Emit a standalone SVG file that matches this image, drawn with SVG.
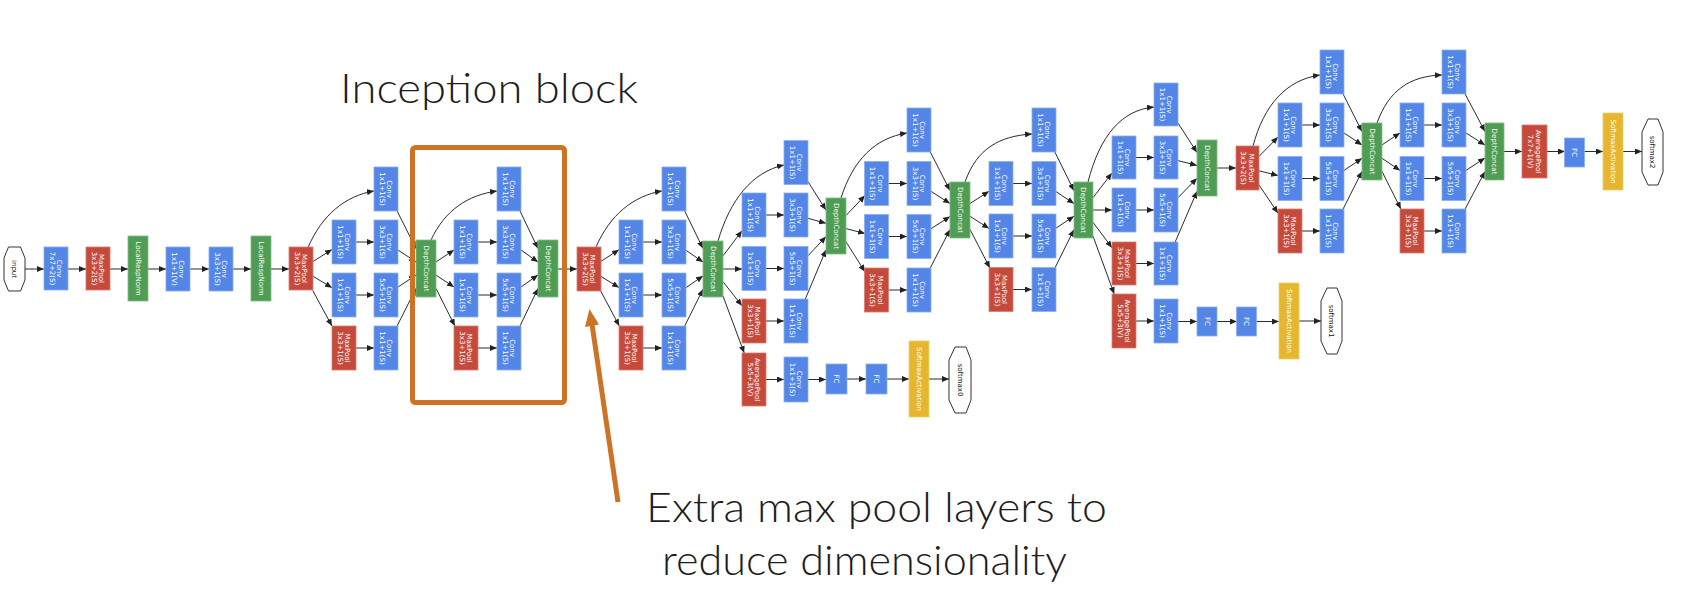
<svg xmlns="http://www.w3.org/2000/svg" width="1685" height="599" viewBox="0 0 1685 599">
<defs>
<marker id="ah" markerWidth="7" markerHeight="6" refX="7" refY="3" orient="auto" markerUnits="userSpaceOnUse"><path d="M0,0 L7,3 L0,6 z" fill="#222"/></marker>
</defs>
<style>
.b{fill:#5386e6;stroke:#8eaef0;stroke-width:0.8}
.r{fill:#c64a3b;stroke:#d97d72;stroke-width:0.8}
.g{fill:#4f9d54;stroke:#82bb86;stroke-width:0.8}
.y{fill:#e6b72e;stroke:#f0cf6e;stroke-width:0.8}
.o{fill:#fff;stroke:#333;stroke-width:1}
text{font-family:"DejaVu Sans",Verdana,sans-serif;font-size:7px;fill:#fff;text-anchor:middle}
text.k{fill:#111}
.big{font-family:"Lato","Open Sans",sans-serif;font-weight:300;font-size:42px;fill:#1d1d1d;text-anchor:start}
#edges path{fill:none;stroke:#2b2b2b;stroke-width:1;marker-end:url(#ah)}
.or{stroke:#cc7325;fill:none;stroke-width:5}
</style>
<rect width="1685" height="599" fill="#fff"/>

<g id="edges">
<path d="M25,269 L44,269"/><path d="M68,269 L86,269"/><path d="M110,269 L128,269"/><path d="M148,269 L166,269"/><path d="M190,269 L209,269"/><path d="M233,269 L251,269"/><path d="M271,269 L289,269"/>
<path d="M313,261.5 L332,249.5"/><path d="M313,276.3 L332,287.7"/><path d="M312.7,290.5 L332,326"/><path d="M308,247.5 C322,215 345,196 374,191"/>
<path d="M356,242 L374,242"/><path d="M356,295 L374,295"/><path d="M356,348 L374,348"/>
<path d="M397.1,211 L416,248.6"/><path d="M398,250 L416,261.9"/><path d="M398,287 L416,275.1"/><path d="M397.1,326 L416,288.4"/>
<path d="M436,261.9 L454,250"/><path d="M436,275.1 L454,287"/><path d="M436,288.4 L454.9,326"/><path d="M431,240 C445,210 468,195 497,191"/>
<path d="M478,242 L497,242"/><path d="M478,295 L497,295"/><path d="M478,348 L497,348"/>
<path d="M520,211 L538,248.6"/><path d="M521,250 L538,262"/><path d="M521,287 L538,275"/><path d="M520,326 L538,288.4"/><path d="M558,269 L577,269"/>
<path d="M601,261.3 L619,249.7"/><path d="M601,276.4 L619,287.6"/><path d="M600.7,291 L619.3,326"/><path d="M596,247 C610,215 633,196 662,191"/>
<path d="M643,242 L662,242"/><path d="M643,295 L662,295"/><path d="M643,348 L662,348"/>
<path d="M684.7,211 L703,248.5"/><path d="M686,250.3 L703,262.1"/><path d="M686,287.7 L703,275.9"/><path d="M684.7,326 L703,289.2"/>
<path d="M723,255.8 L742,230.8"/><path d="M723,269 L742,269"/><path d="M723,281.7 L742,305.8"/><path d="M723,296 L744.2,353"/><path d="M718,241 C730,200 752,172 784,165"/>
<path d="M766,215 L784,215"/><path d="M766,268.5 L784,268.5"/><path d="M766,321 L784,321"/><path d="M766,379.5 L784,379.5"/>
<path d="M808,181.6 L826,210.1"/><path d="M808,218.3 L826,223.3"/><path d="M808,255.8 L826,236.6"/><path d="M805.3,299 L826,249.75"/>
<path d="M808,379.5 L826,379.5"/><path d="M847,379 L866,379"/><path d="M887,379 L909,379"/><path d="M929,379 L949,379"/>
<path d="M846,215.5 L865,195.6"/><path d="M846,228.6 L865,233.5"/><path d="M846,241.8 L865,271.8"/><path d="M841,198 C853,160 875,138 907,133"/>
<path d="M888,183.5 L907,183.5"/><path d="M888,236.5 L907,236.5"/><path d="M888,290 L907,290"/>
<path d="M930.3,152 L950,190.5"/><path d="M931,191.3 L950,203.5"/><path d="M931,228.7 L950,216.5"/><path d="M930.3,268 L950,229.5"/>
<path d="M970,203.5 L989,191.3"/><path d="M970,216.3 L989,228.4"/><path d="M970,229.4 L989.9,268"/><path d="M965,182 C977,148 1000,136 1032,134"/>
<path d="M1013,183.5 L1032,183.5"/><path d="M1013,236 L1032,236"/><path d="M1013,289.5 L1032,289.5"/>
<path d="M1054.9,152 L1074,190.8"/><path d="M1056,191.6 L1074,203.6"/><path d="M1056,228.1 L1074,216.2"/><path d="M1054.9,268 L1074,229.6"/>
<path d="M1093,197.7 L1112,173"/><path d="M1093,210 L1112,210"/><path d="M1093,222.3 L1112,247.7"/><path d="M1093,236.1 L1114.2,294"/><path d="M1088,182 C1100,135 1122,110 1154,107"/>
<path d="M1136,157.5 L1154,157.5"/><path d="M1136,210 L1154,210"/><path d="M1136,263.5 L1154,263.5"/><path d="M1136,321 L1154,321"/>
<path d="M1178,123.1 L1197,152.5"/><path d="M1178,160.6 L1197,165.4"/><path d="M1178,197.7 L1197,178.2"/><path d="M1175.2,242 L1197,191.3"/>
<path d="M1178,321.5 L1197,321.5"/><path d="M1217,321.5 L1237,321.5"/><path d="M1256,321.5 L1279,321.5"/><path d="M1299,321 L1321,321"/>
<path d="M1217,168 L1236,168"/>
<path d="M1259,156.4 L1278,137.1"/><path d="M1259,170.8 L1278,175.5"/><path d="M1259,185 L1278,213.2"/><path d="M1253,146 C1264,105 1286,80 1320,75"/>
<path d="M1302,125 L1320,125"/><path d="M1302,178.5 L1320,178.5"/><path d="M1302,231 L1320,231"/>
<path d="M1343.1,94 L1362,131.6"/><path d="M1344,133 L1362,144.9"/><path d="M1344,170.4 L1362,158.3"/><path d="M1343.1,209 L1362,171.4"/>
<path d="M1382,144.9 L1400,133"/><path d="M1382,158.3 L1400,170.4"/><path d="M1382,171.4 L1400.9,209"/><path d="M1377,123 C1389,90 1410,76 1442,75"/>
<path d="M1424,125 L1442,125"/><path d="M1424,178.5 L1442,178.5"/><path d="M1424,231 L1442,231"/>
<path d="M1465.1,94 L1485,131.6"/><path d="M1466,133 L1485,145"/><path d="M1466,170.4 L1485,158"/><path d="M1465.1,209 L1485,171.4"/>
<path d="M1504,151.5 L1522,151.5"/><path d="M1547,151.5 L1565,151.5"/><path d="M1584,151.5 L1603,151.5"/><path d="M1623,151.5 L1642,151.5"/>
</g>

<!-- main stem -->
<g id="input"><polygon class="o" points="8.5,247 20.5,247 25,258 25,280 20.5,291 8.5,291 4,280 4,258"/><text class="k" transform="translate(14.5,269) rotate(90)" y="2.5">input</text></g>
<g id="conv1" transform="translate(56,268.5)"><rect class="b" x="-12" y="-21.5" width="24" height="43"/><text transform="rotate(90)"><tspan x="0" y="-1.2">Conv</tspan><tspan x="0" y="6.5">7x7+2(S)</tspan></text></g>
<g id="pool1" transform="translate(98,268.5)"><rect class="r" x="-12" y="-21.5" width="24" height="43"/><text transform="rotate(90)"><tspan x="0" y="-1.2">MaxPool</tspan><tspan x="0" y="6.5">3x3+2(S)</tspan></text></g>
<g id="lrn1" transform="translate(138,268.5)"><rect class="g" x="-10" y="-32.5" width="20" height="65"/><text transform="rotate(90)" y="2.5">LocalRespNorm</text></g>
<g id="conv2" transform="translate(178,269)"><rect class="b" x="-12" y="-22" width="24" height="44"/><text transform="rotate(90)"><tspan x="0" y="-1.2">Conv</tspan><tspan x="0" y="6.5">1x1+1(V)</tspan></text></g>
<g id="conv3" transform="translate(221,269)"><rect class="b" x="-12" y="-22" width="24" height="44"/><text transform="rotate(90)"><tspan x="0" y="-1.2">Conv</tspan><tspan x="0" y="6.5">3x3+1(S)</tspan></text></g>
<g id="lrn2" transform="translate(261,268.5)"><rect class="g" x="-10" y="-32.5" width="20" height="65"/><text transform="rotate(90)" y="2.5">LocalRespNorm</text></g>
<g id="pool2" transform="translate(301,268.5)"><rect class="r" x="-12" y="-21.5" width="24" height="43"/><text transform="rotate(90)"><tspan x="0" y="-1.2">MaxPool</tspan><tspan x="0" y="6.5">3x3+2(S)</tspan></text></g>

<!-- inception 3a -->
<g id="i3a_c1r2" transform="translate(344,242)"><rect class="b" x="-12" y="-22" width="24" height="44"/><text transform="rotate(90)"><tspan x="0" y="-1.2">Conv</tspan><tspan x="0" y="6.5">1x1+1(S)</tspan></text></g>
<g id="i3a_c1r3" transform="translate(344,295)"><rect class="b" x="-12" y="-22" width="24" height="44"/><text transform="rotate(90)"><tspan x="0" y="-1.2">Conv</tspan><tspan x="0" y="6.5">1x1+1(S)</tspan></text></g>
<g id="i3a_c1r4" transform="translate(344,348)"><rect class="r" x="-12" y="-22" width="24" height="44"/><text transform="rotate(90)"><tspan x="0" y="-1.2">MaxPool</tspan><tspan x="0" y="6.5">3x3+1(S)</tspan></text></g>
<g id="i3a_c2r1" transform="translate(386,189)"><rect class="b" x="-12" y="-22" width="24" height="44"/><text transform="rotate(90)"><tspan x="0" y="-1.2">Conv</tspan><tspan x="0" y="6.5">1x1+1(S)</tspan></text></g>
<g id="i3a_c2r2" transform="translate(386,242)"><rect class="b" x="-12" y="-22" width="24" height="44"/><text transform="rotate(90)"><tspan x="0" y="-1.2">Conv</tspan><tspan x="0" y="6.5">3x3+1(S)</tspan></text></g>
<g id="i3a_c2r3" transform="translate(386,295)"><rect class="b" x="-12" y="-22" width="24" height="44"/><text transform="rotate(90)"><tspan x="0" y="-1.2">Conv</tspan><tspan x="0" y="6.5">5x5+1(S)</tspan></text></g>
<g id="i3a_c2r4" transform="translate(386,348)"><rect class="b" x="-12" y="-22" width="24" height="44"/><text transform="rotate(90)"><tspan x="0" y="-1.2">Conv</tspan><tspan x="0" y="6.5">1x1+1(S)</tspan></text></g>
<g id="i3a_dc" transform="translate(426,268.5)"><rect class="g" x="-10" y="-28.5" width="20" height="57"/><text transform="rotate(90)" y="2.5">DepthConcat</text></g>

<!-- inception 3b -->
<g id="i3b_c1r2" transform="translate(466,242)"><rect class="b" x="-12" y="-22" width="24" height="44"/><text transform="rotate(90)"><tspan x="0" y="-1.2">Conv</tspan><tspan x="0" y="6.5">1x1+1(S)</tspan></text></g>
<g id="i3b_c1r3" transform="translate(466,295)"><rect class="b" x="-12" y="-22" width="24" height="44"/><text transform="rotate(90)"><tspan x="0" y="-1.2">Conv</tspan><tspan x="0" y="6.5">1x1+1(S)</tspan></text></g>
<g id="i3b_c1r4" transform="translate(466,348)"><rect class="r" x="-12" y="-22" width="24" height="44"/><text transform="rotate(90)"><tspan x="0" y="-1.2">MaxPool</tspan><tspan x="0" y="6.5">3x3+1(S)</tspan></text></g>
<g id="i3b_c2r1" transform="translate(509,189)"><rect class="b" x="-12" y="-22" width="24" height="44"/><text transform="rotate(90)"><tspan x="0" y="-1.2">Conv</tspan><tspan x="0" y="6.5">1x1+1(S)</tspan></text></g>
<g id="i3b_c2r2" transform="translate(509,242)"><rect class="b" x="-12" y="-22" width="24" height="44"/><text transform="rotate(90)"><tspan x="0" y="-1.2">Conv</tspan><tspan x="0" y="6.5">3x3+1(S)</tspan></text></g>
<g id="i3b_c2r3" transform="translate(509,295)"><rect class="b" x="-12" y="-22" width="24" height="44"/><text transform="rotate(90)"><tspan x="0" y="-1.2">Conv</tspan><tspan x="0" y="6.5">5x5+1(S)</tspan></text></g>
<g id="i3b_c2r4" transform="translate(509,348)"><rect class="b" x="-12" y="-22" width="24" height="44"/><text transform="rotate(90)"><tspan x="0" y="-1.2">Conv</tspan><tspan x="0" y="6.5">1x1+1(S)</tspan></text></g>
<g id="i3b_dc" transform="translate(548,268.5)"><rect class="g" x="-10" y="-28.5" width="20" height="57"/><text transform="rotate(90)" y="2.5">DepthConcat</text></g>
<g id="pool3" transform="translate(589,269)"><rect class="r" x="-12" y="-22" width="24" height="44"/><text transform="rotate(90)"><tspan x="0" y="-1.2">MaxPool</tspan><tspan x="0" y="6.5">3x3+2(S)</tspan></text></g>

<!-- inception 4a -->
<g id="i4a_c1r2" transform="translate(631,242)"><rect class="b" x="-12" y="-22" width="24" height="44"/><text transform="rotate(90)"><tspan x="0" y="-1.2">Conv</tspan><tspan x="0" y="6.5">1x1+1(S)</tspan></text></g>
<g id="i4a_c1r3" transform="translate(631,295)"><rect class="b" x="-12" y="-22" width="24" height="44"/><text transform="rotate(90)"><tspan x="0" y="-1.2">Conv</tspan><tspan x="0" y="6.5">1x1+1(S)</tspan></text></g>
<g id="i4a_c1r4" transform="translate(631,348)"><rect class="r" x="-12" y="-22" width="24" height="44"/><text transform="rotate(90)"><tspan x="0" y="-1.2">MaxPool</tspan><tspan x="0" y="6.5">3x3+1(S)</tspan></text></g>
<g id="i4a_c2r1" transform="translate(674,189)"><rect class="b" x="-12" y="-22" width="24" height="44"/><text transform="rotate(90)"><tspan x="0" y="-1.2">Conv</tspan><tspan x="0" y="6.5">1x1+1(S)</tspan></text></g>
<g id="i4a_c2r2" transform="translate(674,242)"><rect class="b" x="-12" y="-22" width="24" height="44"/><text transform="rotate(90)"><tspan x="0" y="-1.2">Conv</tspan><tspan x="0" y="6.5">3x3+1(S)</tspan></text></g>
<g id="i4a_c2r3" transform="translate(674,295)"><rect class="b" x="-12" y="-22" width="24" height="44"/><text transform="rotate(90)"><tspan x="0" y="-1.2">Conv</tspan><tspan x="0" y="6.5">5x5+1(S)</tspan></text></g>
<g id="i4a_c2r4" transform="translate(674,348)"><rect class="b" x="-12" y="-22" width="24" height="44"/><text transform="rotate(90)"><tspan x="0" y="-1.2">Conv</tspan><tspan x="0" y="6.5">1x1+1(S)</tspan></text></g>
<g id="i4a_dc" transform="translate(713,269)"><rect class="g" x="-10" y="-28" width="20" height="56"/><text transform="rotate(90)" y="2.5">DepthConcat</text></g>

<!-- inception 4b + aux0 -->
<g id="i4b_c1r2" transform="translate(754,215)"><rect class="b" x="-12" y="-22" width="24" height="44"/><text transform="rotate(90)"><tspan x="0" y="-1.2">Conv</tspan><tspan x="0" y="6.5">1x1+1(S)</tspan></text></g>
<g id="i4b_c1r3" transform="translate(754,268.5)"><rect class="b" x="-12" y="-22" width="24" height="44"/><text transform="rotate(90)"><tspan x="0" y="-1.2">Conv</tspan><tspan x="0" y="6.5">1x1+1(S)</tspan></text></g>
<g id="i4b_c1r4" transform="translate(754,321)"><rect class="r" x="-12" y="-22" width="24" height="44"/><text transform="rotate(90)"><tspan x="0" y="-1.2">MaxPool</tspan><tspan x="0" y="6.5">3x3+1(S)</tspan></text></g>
<g id="i4b_c2r1" transform="translate(796,162.5)"><rect class="b" x="-12" y="-22" width="24" height="44"/><text transform="rotate(90)"><tspan x="0" y="-1.2">Conv</tspan><tspan x="0" y="6.5">1x1+1(S)</tspan></text></g>
<g id="i4b_c2r2" transform="translate(796,215)"><rect class="b" x="-12" y="-22" width="24" height="44"/><text transform="rotate(90)"><tspan x="0" y="-1.2">Conv</tspan><tspan x="0" y="6.5">3x3+1(S)</tspan></text></g>
<g id="i4b_c2r3" transform="translate(796,268.5)"><rect class="b" x="-12" y="-22" width="24" height="44"/><text transform="rotate(90)"><tspan x="0" y="-1.2">Conv</tspan><tspan x="0" y="6.5">5x5+1(S)</tspan></text></g>
<g id="i4b_c2r4" transform="translate(796,321)"><rect class="b" x="-12" y="-22" width="24" height="44"/><text transform="rotate(90)"><tspan x="0" y="-1.2">Conv</tspan><tspan x="0" y="6.5">1x1+1(S)</tspan></text></g>
<g id="i4b_dc" transform="translate(836,226)"><rect class="g" x="-10" y="-28" width="20" height="56"/><text transform="rotate(90)" y="2.5">DepthConcat</text></g>
<g id="aux0_pool" transform="translate(754,379.5)"><rect class="r" x="-12" y="-26.5" width="24" height="53"/><text transform="rotate(90)"><tspan x="0" y="-1.2">AveragePool</tspan><tspan x="0" y="6.5">5x5+3(V)</tspan></text></g>
<g id="aux0_conv" transform="translate(796,379.5)"><rect class="b" x="-12" y="-22.5" width="24" height="45"/><text transform="rotate(90)"><tspan x="0" y="-1.2">Conv</tspan><tspan x="0" y="6.5">1x1+1(S)</tspan></text></g>
<g id="aux0_fc1" transform="translate(836.5,379)"><rect class="b" x="-10.5" y="-15" width="21" height="30"/><text transform="rotate(90)" y="2.5">FC</text></g>
<g id="aux0_fc2" transform="translate(876.5,379)"><rect class="b" x="-10.5" y="-15" width="21" height="30"/><text transform="rotate(90)" y="2.5">FC</text></g>
<g id="aux0_sm" transform="translate(919,379)"><rect class="y" x="-10" y="-38" width="20" height="76"/><text transform="rotate(90)" y="2.5">SoftmaxActivation</text></g>
<g id="softmax0"><polygon class="o" points="955,347 966,347 971,360 971,400 966,413 955,413 949,400 949,360"/><text class="k" transform="translate(960,380) rotate(90)" y="2.5">softmax0</text></g>

<!-- inception 4c -->
<g id="i4c_c1r2" transform="translate(876.5,183.5)"><rect class="b" x="-12" y="-22" width="24" height="44"/><text transform="rotate(90)"><tspan x="0" y="-1.2">Conv</tspan><tspan x="0" y="6.5">1x1+1(S)</tspan></text></g>
<g id="i4c_c1r3" transform="translate(876.5,236.5)"><rect class="b" x="-12" y="-22" width="24" height="44"/><text transform="rotate(90)"><tspan x="0" y="-1.2">Conv</tspan><tspan x="0" y="6.5">1x1+1(S)</tspan></text></g>
<g id="i4c_c1r4" transform="translate(876.5,290)"><rect class="r" x="-12" y="-22" width="24" height="44"/><text transform="rotate(90)"><tspan x="0" y="-1.2">MaxPool</tspan><tspan x="0" y="6.5">3x3+1(S)</tspan></text></g>
<g id="i4c_c2r1" transform="translate(919,130)"><rect class="b" x="-12" y="-22" width="24" height="44"/><text transform="rotate(90)"><tspan x="0" y="-1.2">Conv</tspan><tspan x="0" y="6.5">1x1+1(S)</tspan></text></g>
<g id="i4c_c2r2" transform="translate(919,183.5)"><rect class="b" x="-12" y="-22" width="24" height="44"/><text transform="rotate(90)"><tspan x="0" y="-1.2">Conv</tspan><tspan x="0" y="6.5">3x3+1(S)</tspan></text></g>
<g id="i4c_c2r3" transform="translate(919,236.5)"><rect class="b" x="-12" y="-22" width="24" height="44"/><text transform="rotate(90)"><tspan x="0" y="-1.2">Conv</tspan><tspan x="0" y="6.5">5x5+1(S)</tspan></text></g>
<g id="i4c_c2r4" transform="translate(919,290)"><rect class="b" x="-12" y="-22" width="24" height="44"/><text transform="rotate(90)"><tspan x="0" y="-1.2">Conv</tspan><tspan x="0" y="6.5">1x1+1(S)</tspan></text></g>
<g id="i4c_dc" transform="translate(960,210)"><rect class="g" x="-10" y="-28" width="20" height="56"/><text transform="rotate(90)" y="2.5">DepthConcat</text></g>

<!-- inception 4d -->
<g id="i4d_c1r2" transform="translate(1001,183.5)"><rect class="b" x="-12" y="-22" width="24" height="44"/><text transform="rotate(90)"><tspan x="0" y="-1.2">Conv</tspan><tspan x="0" y="6.5">1x1+1(S)</tspan></text></g>
<g id="i4d_c1r3" transform="translate(1001,236)"><rect class="b" x="-12" y="-22" width="24" height="44"/><text transform="rotate(90)"><tspan x="0" y="-1.2">Conv</tspan><tspan x="0" y="6.5">1x1+1(S)</tspan></text></g>
<g id="i4d_c1r4" transform="translate(1001,289.5)"><rect class="r" x="-12" y="-22" width="24" height="44"/><text transform="rotate(90)"><tspan x="0" y="-1.2">MaxPool</tspan><tspan x="0" y="6.5">3x3+1(S)</tspan></text></g>
<g id="i4d_c2r1" transform="translate(1044,130)"><rect class="b" x="-12" y="-22" width="24" height="44"/><text transform="rotate(90)"><tspan x="0" y="-1.2">Conv</tspan><tspan x="0" y="6.5">1x1+1(S)</tspan></text></g>
<g id="i4d_c2r2" transform="translate(1044,183.5)"><rect class="b" x="-12" y="-22" width="24" height="44"/><text transform="rotate(90)"><tspan x="0" y="-1.2">Conv</tspan><tspan x="0" y="6.5">3x3+1(S)</tspan></text></g>
<g id="i4d_c2r3" transform="translate(1044,236)"><rect class="b" x="-12" y="-22" width="24" height="44"/><text transform="rotate(90)"><tspan x="0" y="-1.2">Conv</tspan><tspan x="0" y="6.5">5x5+1(S)</tspan></text></g>
<g id="i4d_c2r4" transform="translate(1044,289.5)"><rect class="b" x="-12" y="-22" width="24" height="44"/><text transform="rotate(90)"><tspan x="0" y="-1.2">Conv</tspan><tspan x="0" y="6.5">1x1+1(S)</tspan></text></g>
<g id="i4d_dc" transform="translate(1083.5,210)"><rect class="g" x="-9.5" y="-28" width="19" height="56"/><text transform="rotate(90)" y="2.5">DepthConcat</text></g>

<!-- inception 4e + aux1 -->
<g id="i4e_c1r2" transform="translate(1124,157.5)"><rect class="b" x="-12" y="-21.5" width="24" height="43"/><text transform="rotate(90)"><tspan x="0" y="-1.2">Conv</tspan><tspan x="0" y="6.5">1x1+1(S)</tspan></text></g>
<g id="i4e_c1r3" transform="translate(1124,210)"><rect class="b" x="-12" y="-22" width="24" height="44"/><text transform="rotate(90)"><tspan x="0" y="-1.2">Conv</tspan><tspan x="0" y="6.5">1x1+1(S)</tspan></text></g>
<g id="i4e_c1r4" transform="translate(1124,263.5)"><rect class="r" x="-12" y="-21.5" width="24" height="43"/><text transform="rotate(90)"><tspan x="0" y="-1.2">MaxPool</tspan><tspan x="0" y="6.5">3x3+1(S)</tspan></text></g>
<g id="i4e_c2r1" transform="translate(1166,104.5)"><rect class="b" x="-12" y="-21.5" width="24" height="43"/><text transform="rotate(90)"><tspan x="0" y="-1.2">Conv</tspan><tspan x="0" y="6.5">1x1+1(S)</tspan></text></g>
<g id="i4e_c2r2" transform="translate(1166,157.5)"><rect class="b" x="-12" y="-21.5" width="24" height="43"/><text transform="rotate(90)"><tspan x="0" y="-1.2">Conv</tspan><tspan x="0" y="6.5">3x3+1(S)</tspan></text></g>
<g id="i4e_c2r3" transform="translate(1166,210)"><rect class="b" x="-12" y="-22" width="24" height="44"/><text transform="rotate(90)"><tspan x="0" y="-1.2">Conv</tspan><tspan x="0" y="6.5">5x5+1(S)</tspan></text></g>
<g id="i4e_c2r4" transform="translate(1166,263.5)"><rect class="b" x="-12" y="-21.5" width="24" height="43"/><text transform="rotate(90)"><tspan x="0" y="-1.2">Conv</tspan><tspan x="0" y="6.5">1x1+1(S)</tspan></text></g>
<g id="i4e_dc" transform="translate(1207,168)"><rect class="g" x="-10" y="-28" width="20" height="56"/><text transform="rotate(90)" y="2.5">DepthConcat</text></g>
<g id="aux1_pool" transform="translate(1124,321)"><rect class="r" x="-12" y="-27" width="24" height="54"/><text transform="rotate(90)"><tspan x="0" y="-1.2">AveragePool</tspan><tspan x="0" y="6.5">5x5+3(V)</tspan></text></g>
<g id="aux1_conv" transform="translate(1166,321)"><rect class="b" x="-12" y="-22" width="24" height="44"/><text transform="rotate(90)"><tspan x="0" y="-1.2">Conv</tspan><tspan x="0" y="6.5">1x1+1(S)</tspan></text></g>
<g id="aux1_fc1" transform="translate(1207,321.5)"><rect class="b" x="-10" y="-14.5" width="20" height="29"/><text transform="rotate(90)" y="2.5">FC</text></g>
<g id="aux1_fc2" transform="translate(1246.5,321.5)"><rect class="b" x="-10" y="-14.5" width="20" height="29"/><text transform="rotate(90)" y="2.5">FC</text></g>
<g id="aux1_sm" transform="translate(1289,321)"><rect class="y" x="-10" y="-38" width="20" height="76"/><text transform="rotate(90)" y="2.5">SoftmaxActivation</text></g>
<g id="softmax1"><polygon class="o" points="1327,288 1337,288 1342,301 1342,341 1337,354 1327,354 1321,341 1321,301"/><text class="k" transform="translate(1331.5,321) rotate(90)" y="2.5">softmax1</text></g>
<g id="pool4" transform="translate(1247.5,168)"><rect class="r" x="-11.5" y="-22" width="23" height="44"/><text transform="rotate(90)"><tspan x="0" y="-1.2">MaxPool</tspan><tspan x="0" y="6.5">3x3+2(S)</tspan></text></g>

<!-- inception 5a -->
<g id="i5a_c1r2" transform="translate(1290,125)"><rect class="b" x="-12" y="-22" width="24" height="44"/><text transform="rotate(90)"><tspan x="0" y="-1.2">Conv</tspan><tspan x="0" y="6.5">1x1+1(S)</tspan></text></g>
<g id="i5a_c1r3" transform="translate(1290,178.5)"><rect class="b" x="-12" y="-22" width="24" height="44"/><text transform="rotate(90)"><tspan x="0" y="-1.2">Conv</tspan><tspan x="0" y="6.5">1x1+1(S)</tspan></text></g>
<g id="i5a_c1r4" transform="translate(1290,231)"><rect class="r" x="-12" y="-22" width="24" height="44"/><text transform="rotate(90)"><tspan x="0" y="-1.2">MaxPool</tspan><tspan x="0" y="6.5">3x3+1(S)</tspan></text></g>
<g id="i5a_c2r1" transform="translate(1332,72)"><rect class="b" x="-12" y="-22" width="24" height="44"/><text transform="rotate(90)"><tspan x="0" y="-1.2">Conv</tspan><tspan x="0" y="6.5">1x1+1(S)</tspan></text></g>
<g id="i5a_c2r2" transform="translate(1332,125)"><rect class="b" x="-12" y="-22" width="24" height="44"/><text transform="rotate(90)"><tspan x="0" y="-1.2">Conv</tspan><tspan x="0" y="6.5">3x3+1(S)</tspan></text></g>
<g id="i5a_c2r3" transform="translate(1332,178.5)"><rect class="b" x="-12" y="-22" width="24" height="44"/><text transform="rotate(90)"><tspan x="0" y="-1.2">Conv</tspan><tspan x="0" y="6.5">5x5+1(S)</tspan></text></g>
<g id="i5a_c2r4" transform="translate(1332,231)"><rect class="b" x="-12" y="-22" width="24" height="44"/><text transform="rotate(90)"><tspan x="0" y="-1.2">Conv</tspan><tspan x="0" y="6.5">1x1+1(S)</tspan></text></g>
<g id="i5a_dc" transform="translate(1372,151.5)"><rect class="g" x="-10" y="-28.5" width="20" height="57"/><text transform="rotate(90)" y="2.5">DepthConcat</text></g>

<!-- inception 5b -->
<g id="i5b_c1r2" transform="translate(1412,125)"><rect class="b" x="-12" y="-22" width="24" height="44"/><text transform="rotate(90)"><tspan x="0" y="-1.2">Conv</tspan><tspan x="0" y="6.5">1x1+1(S)</tspan></text></g>
<g id="i5b_c1r3" transform="translate(1412,178.5)"><rect class="b" x="-12" y="-22" width="24" height="44"/><text transform="rotate(90)"><tspan x="0" y="-1.2">Conv</tspan><tspan x="0" y="6.5">1x1+1(S)</tspan></text></g>
<g id="i5b_c1r4" transform="translate(1412,231)"><rect class="r" x="-12" y="-22" width="24" height="44"/><text transform="rotate(90)"><tspan x="0" y="-1.2">MaxPool</tspan><tspan x="0" y="6.5">3x3+1(S)</tspan></text></g>
<g id="i5b_c2r1" transform="translate(1454,72)"><rect class="b" x="-12" y="-22" width="24" height="44"/><text transform="rotate(90)"><tspan x="0" y="-1.2">Conv</tspan><tspan x="0" y="6.5">1x1+1(S)</tspan></text></g>
<g id="i5b_c2r2" transform="translate(1454,125)"><rect class="b" x="-12" y="-22" width="24" height="44"/><text transform="rotate(90)"><tspan x="0" y="-1.2">Conv</tspan><tspan x="0" y="6.5">3x3+1(S)</tspan></text></g>
<g id="i5b_c2r3" transform="translate(1454,178.5)"><rect class="b" x="-12" y="-22" width="24" height="44"/><text transform="rotate(90)"><tspan x="0" y="-1.2">Conv</tspan><tspan x="0" y="6.5">5x5+1(S)</tspan></text></g>
<g id="i5b_c2r4" transform="translate(1454,231)"><rect class="b" x="-12" y="-22" width="24" height="44"/><text transform="rotate(90)"><tspan x="0" y="-1.2">Conv</tspan><tspan x="0" y="6.5">1x1+1(S)</tspan></text></g>
<g id="i5b_dc" transform="translate(1494.5,151.5)"><rect class="g" x="-9.5" y="-28.5" width="19" height="57"/><text transform="rotate(90)" y="2.5">DepthConcat</text></g>

<!-- head -->
<g id="avgpool" transform="translate(1534.5,151.5)"><rect class="r" x="-12.5" y="-26.5" width="25" height="53"/><text transform="rotate(90)"><tspan x="0" y="-1.2">AveragePool</tspan><tspan x="0" y="6.5">7x7+1(V)</tspan></text></g>
<g id="fc" transform="translate(1574.5,152.5)"><rect class="b" x="-10" y="-14.5" width="20" height="29"/><text transform="rotate(90)" y="2.5">FC</text></g>
<g id="sm2" transform="translate(1613,151.5)"><rect class="y" x="-10" y="-38.5" width="20" height="77"/><text transform="rotate(90)" y="2.5">SoftmaxActivation</text></g>
<g id="softmax2"><polygon class="o" points="1648,119 1658,119 1663,132 1663,172 1658,185 1648,185 1642,172 1642,132"/><text class="k" transform="translate(1652.5,152) rotate(90)" y="2.5">softmax2</text></g>

<!-- annotations -->
<g id="inception-box"><rect class="or" x="412.5" y="147.5" width="152" height="255" rx="3"/></g>
<g id="annotation-arrow"><line class="or" x1="618" y1="502" x2="592" y2="324" stroke-width="4.5"/><polygon points="589.5,309 599,324.5 585,327" fill="#cc7325"/></g>
<text class="big" x="340" y="103" textLength="298" lengthAdjust="spacingAndGlyphs">Inception block</text>
<text class="big" x="646" y="522" textLength="461" lengthAdjust="spacingAndGlyphs">Extra max pool layers to</text>
<text class="big" x="662" y="575" textLength="405" lengthAdjust="spacingAndGlyphs">reduce dimensionality</text>
</svg>
